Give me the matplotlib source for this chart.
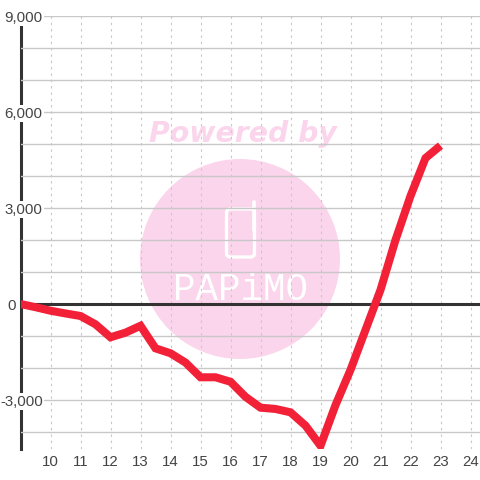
import matplotlib
matplotlib.use("Agg")
import matplotlib.pyplot as plt
from matplotlib.patches import Circle, FancyBboxPatch
from matplotlib.transforms import IdentityTransform
from matplotlib.ticker import FuncFormatter

# half hour points, 9:00 to 23:00
hours = [9, 9.5, 10, 10.5, 11, 11.5, 12, 12.5, 13, 13.5, 14, 14.5, 15, 15.5, 16, 16.5,
         17, 17.5, 18, 18.5, 19, 19.5, 20, 20.5, 21, 21.5, 22, 22.5, 23]
values = [0, -100, -210, -295, -375, -635, -1040, -895, -680, -1385, -1540, -1830, -2290, -2290, -2430, -2900,
          -3240, -3280, -3385, -3800, -4430, -3160, -2060, -810, 440, 2000, 3375, 4560, 4950]

x_ticks = list(range(10, 25))
y_labels = [-3000, 0, 3000, 6000, 9000]
y_grid = list(range(-4000, 10000, 1000))

PINK = "#fbd5ec"
W, H = 480, 480

fig = plt.figure(figsize=(4.8, 4.8), dpi=100)
ax = fig.add_axes([20.5 / W, (H - 449) / H, (W - 20.5) / W, (449 - 16) / H])
ax.set_xlim(9, 9 + (W - 20.5) / 30)
ax.set_ylim(9000 - 433 / 0.032, 9000)

for name in ["top", "right", "bottom"]:
    ax.spines[name].set_visible(False)
ax.spines["left"].set_color("#333333")
ax.spines["left"].set_linewidth(2.2)
ax.spines["left"].set_zorder(1.2)

ax.set_xticks(x_ticks)
ax.set_yticks(y_labels)
ax.set_yticks(y_grid, minor=True)
ax.yaxis.set_major_formatter(FuncFormatter(lambda v, p: format(int(v), ",")))
ax.tick_params(axis="both", which="both", length=0, labelsize=10.8, labelcolor="#444444")
ax.tick_params(axis="x", pad=4)
ax.tick_params(axis="y", pad=-16)
# the 0 label sits left of the axis, the others run over it
ax.yaxis.get_major_ticks()[y_labels.index(0)].set_pad(3)
for v, lab in zip(y_labels, ax.get_yticklabels()):
    if v != 0:
        lab.set_bbox(dict(facecolor="white", edgecolor="none", pad=1))

ax.grid(axis="x", color="#c8c8c8", linewidth=0.8, linestyle=(0, (2.2, 3.5)))
ax.grid(axis="y", which="both", color="#c8c8c8", linewidth=1.0)

# watermark, in pixels
def py(v):
    return H - v

px = IdentityTransform()
ax.add_patch(Circle((240, py(259)), 100, facecolor=PINK, edgecolor="none", transform=px, zorder=1))
ax.add_patch(FancyBboxPatch((226.5, py(257)), 28, 48, boxstyle="round,pad=0,rounding_size=4", facecolor="none",
                            edgecolor="white", linewidth=2.4, transform=px, zorder=1.1))
ax.plot([253.5, 253.5], [py(230), py(202)], color="white", linewidth=2.6, solid_capstyle="round",
        transform=px, zorder=1.1, clip_on=False)
ax.text(241, py(290), "PAPiMO", color="white", fontsize=27, family="Liberation Mono", ha="center", va="center",
        transform=px, zorder=1.1)
ax.text(242.5, py(134), "Powered by", color=PINK, fontsize=20.4, family="DejaVu Sans", fontweight="bold", style="italic",
        ha="center", va="center", transform=px, zorder=1)

ax.axhline(0, color="#333333", linewidth=2.2, zorder=1.8)
ax.plot(hours, values, color="#f22138", linewidth=5.8, solid_joinstyle="miter", solid_capstyle="butt", zorder=2)

for lab in ax.get_xticklabels() + ax.get_yticklabels():
    lab.set_family("Liberation Sans")

fig.savefig("out.png", dpi=100)
